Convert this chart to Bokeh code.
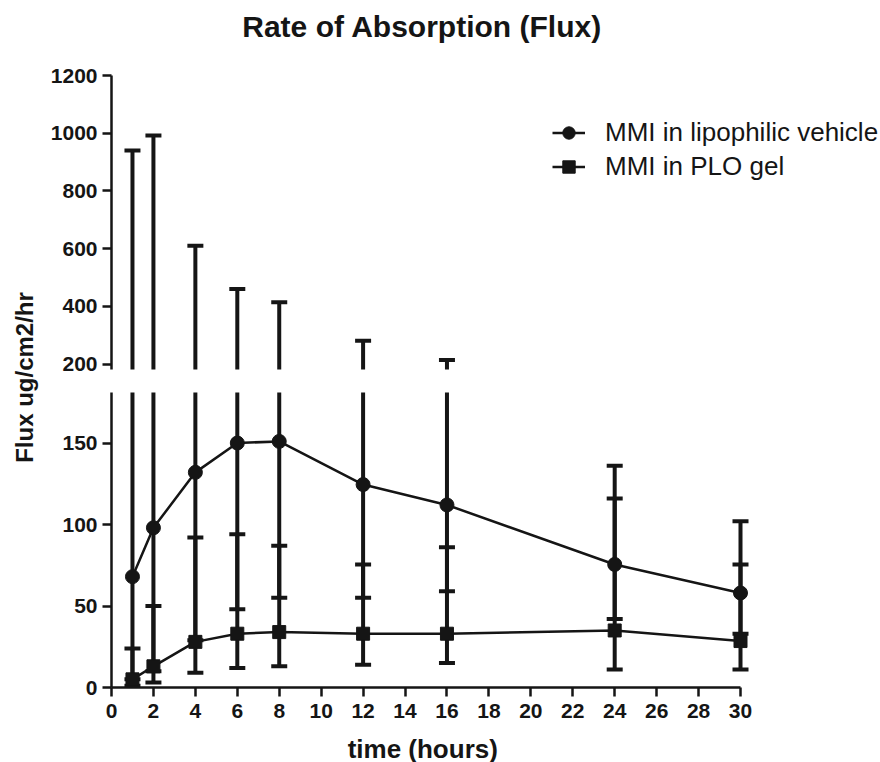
import math
from bokeh.plotting import figure
from bokeh.models import Range1d, FixedTicker, Label, Legend, LegendItem, ColumnDataSource
from bokeh.layouts import row, column
from bokeh.embed import file_html
from bokeh.resources import INLINE

# ---------------- data ----------------
time_h = [1, 2, 4, 6, 8, 12, 16, 24, 30]
lipo_mean = [68, 98, 132, 150, 151, 124.5, 112, 75.5, 58]
lipo_upper = [940, 992, 610, 460, 414, 281, 214, 136, 102]
lipo_lower = [5, 10, 29, 48, 55, 55, 59, 42, 33]
plo_mean = [5, 13, 28, 33, 34, 33, 33, 35, 28.5]
plo_upper = [24, 50, 92, 94, 87, 75.5, 86, 116, 75.5]
plo_lower = [1, 3, 9, 12, 13, 14, 15, 11, 11]

x_ticks = list(range(0, 31, 2))
top_ticks = [200, 400, 600, 800, 1000, 1200]
bottom_ticks = [0, 50, 100, 150]

title_text = "Rate of Absorption  (Flux)"
x_label = "time (hours)"
y_label = "Flux ug/cm2/hr"
series_names = ["MMI in lipophilic vehicle", "MMI in PLO gel"]

INK = "#151515"
FONT = "Liberation Sans"

lipo_src = ColumnDataSource(dict(x=time_h, y=lipo_mean, lo=lipo_lower, hi=lipo_upper))
plo_src = ColumnDataSource(dict(x=time_h, y=plo_mean, lo=plo_lower, hi=plo_upper))

# axis spans 0..30 over 629 px; the frame continues 140 px further right
# (so the legend and end caps are not clipped), the axis line is bounded to 0..30
AXIS_PX, FRAME_PX = 629, 769
x_range = Range1d(0, 30 * FRAME_PX / AXIS_PX)


def blank(w, h):
    p = figure(width=w, height=h, x_range=Range1d(0, w), y_range=Range1d(0, h),
               output_backend="svg", toolbar_location=None, x_axis_location=None,
               y_axis_location=None, title=None, min_border_left=0, min_border_right=0,
               min_border_top=0, min_border_bottom=0)
    p.outline_line_color = None
    p.xgrid.visible = False
    p.ygrid.visible = False
    return p


def style_axes(p):
    for ax in p.axis:
        ax.axis_line_color = INK
        ax.axis_line_width = 2.5
        ax.major_tick_line_color = INK
        ax.major_tick_line_width = 2.5
        ax.major_tick_out = 9
        ax.major_tick_in = 0
        ax.minor_tick_line_color = None
        ax.major_label_text_font = FONT
        ax.major_label_text_font_style = "bold"
        ax.major_label_text_font_size = "21px"
        ax.major_label_text_color = INK
        ax.major_label_standoff = 5
    p.xgrid.visible = False
    p.ygrid.visible = False
    p.outline_line_color = None
    p.background_fill_color = "white"
    p.border_fill_color = "white"


def draw_series(p):
    rs = {}
    for src in (lipo_src, plo_src):
        p.segment(x0="x", y0="lo", x1="x", y1="hi", source=src, line_color=INK, line_width=4)
        p.scatter(x="x", y="hi", source=src, marker="dash", size=16, line_color=INK, line_width=4)
        p.scatter(x="x", y="lo", source=src, marker="dash", size=16, line_color=INK, line_width=4)
    for key, src, marker, msize in (("lipo", lipo_src, "circle", 14), ("plo", plo_src, "square", 13)):
        lr = p.line(x="x", y="y", source=src, line_color=INK, line_width=2.5)
        sr = p.scatter(x="x", y="y", source=src, marker=marker, size=msize,
                       fill_color=INK, line_color=INK)
        rs[key] = (lr, sr)
    return rs


# ---------------- title strip ----------------
p_title = blank(840, 60)
p_title.add_layout(Label(x=344, y=34, text=title_text, text_align="center",
                         text_baseline="alphabetic", text_font=FONT, text_font_style="bold",
                         text_font_size="30px", text_color=INK))

# ---------------- top segment (200 - 1200) ----------------
p_top = figure(width=840, height=320, x_range=x_range, y_range=Range1d(181, 1200),
               output_backend="svg", toolbar_location=None, x_axis_location=None, title=None,
               min_border_left=71, min_border_right=0, min_border_top=15, min_border_bottom=11)
p_top.yaxis.ticker = FixedTicker(ticks=top_ticks)
style_axes(p_top)
rs = draw_series(p_top)

legend = Legend(items=[LegendItem(label=series_names[0], renderers=list(rs["lipo"])),
                       LegendItem(label=series_names[1], renderers=list(rs["plo"]))],
                location=(441, 187), border_line_color=None, background_fill_alpha=0,
                padding=0, margin=0, spacing=3, glyph_width=33, glyph_height=31,
                label_height=31, label_standoff=20, label_text_font=FONT,
                label_text_font_size="26px", label_text_color=INK)
p_top.add_layout(legend)

# ---------------- bottom segment (0 - 180) ----------------
p_bot = figure(width=840, height=348, x_range=x_range, y_range=Range1d(0, 181),
               output_backend="svg", toolbar_location=None, title=None,
               min_border_left=71, min_border_right=0, min_border_top=12, min_border_bottom=41)
p_bot.yaxis.ticker = FixedTicker(ticks=bottom_ticks)
p_bot.xaxis.ticker = FixedTicker(ticks=x_ticks)
p_bot.xaxis.bounds = (0, 30)
style_axes(p_bot)
p_bot.xaxis.major_label_standoff = 7
draw_series(p_bot)

# ---------------- x label strip ----------------
p_xlab = blank(840, 34)
p_xlab.add_layout(Label(x=340, y=14, text=x_label, text_align="center",
                        text_baseline="alphabetic", text_font=FONT, text_font_style="bold",
                        text_font_size="26px", text_color=INK))

# ---------------- y label strip ----------------
p_lab = blank(40, 762)
p_lab.add_layout(Label(x=24, y=385, text=y_label, angle=math.pi / 2,
                       text_align="center", text_baseline="middle", text_font=FONT,
                       text_font_style="bold", text_font_size="24px", text_color=INK))

layout = row(p_lab, column(p_title, p_top, p_bot, p_xlab))

with open("out.html", "w") as f:
    f.write(file_html(layout, INLINE))
